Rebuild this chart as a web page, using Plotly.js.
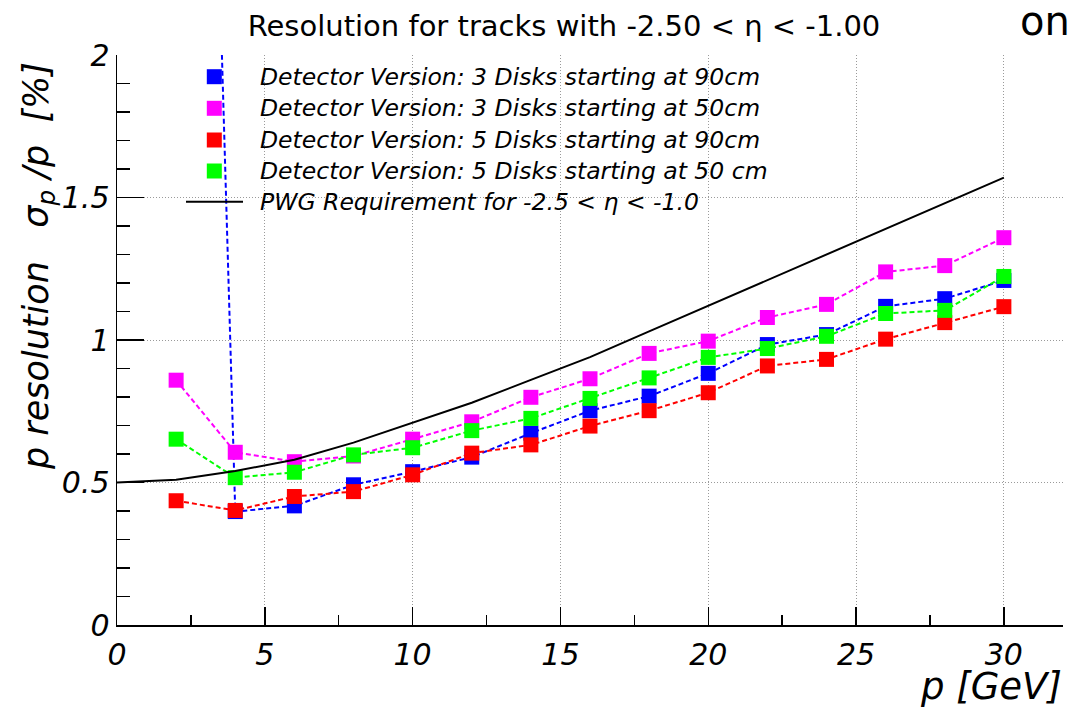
<!DOCTYPE html>
<html>
<head>
<meta charset="utf-8">
<script src="https://cdn.plot.ly/plotly-3.0.1.min.js"></script>
<style>
  html, body { margin: 0; padding: 0; background: #ffffff; }
  #chart { width: 1068px; height: 707px; }
</style>
</head>
<body>
<div id="chart"></div>
<script>
// Momentum points (GeV) where the resolution was evaluated
const momentum = [2, 4, 6, 8, 10, 12, 14, 16, 18, 20, 22, 24, 26, 28, 30];

// Relative momentum resolution (%) for each detector configuration
const res3Disks90 = [7.5, 0.398, 0.418, 0.492, 0.538, 0.589, 0.673, 0.752, 0.803, 0.883, 0.984, 1.019, 1.118, 1.145, 1.209];
const res3Disks50 = [0.859, 0.606, 0.573, 0.593, 0.652, 0.713, 0.799, 0.864, 0.953, 0.996, 1.079, 1.125, 1.239, 1.261, 1.359];
const res5Disks90 = [0.436, 0.402, 0.451, 0.468, 0.527, 0.603, 0.632, 0.698, 0.752, 0.815, 0.909, 0.932, 1.003, 1.061, 1.117];
const res5Disks50 = [0.652, 0.517, 0.536, 0.597, 0.622, 0.682, 0.725, 0.795, 0.867, 0.939, 0.970, 1.013, 1.093, 1.104, 1.223];

// Physics working group requirement curve
const requirementP   = [0, 2, 4, 6, 8, 10, 12, 14, 16, 18, 20, 22, 24, 26, 28, 30];
const requirementRes = [0.50, 0.51, 0.54, 0.58, 0.64, 0.71, 0.78, 0.86, 0.94, 1.03, 1.12, 1.21, 1.30, 1.39, 1.48, 1.57];

const seriesNames = [
  'Detector Version: 3 Disks starting at 90cm',
  'Detector Version: 3 Disks starting at 50cm',
  'Detector Version: 5 Disks starting at 90cm',
  'Detector Version: 5 Disks starting at 50 cm'
];
const requirementName = 'PWG Requirement for -2.5 < \u03B7 < -1.0';
const seriesValues = [res3Disks90, res3Disks50, res5Disks90, res5Disks50];
const seriesColors = ['#0000ff', '#ff00ff', '#ff0000', '#00ff00'];

const xTickVals = [0, 5, 10, 15, 20, 25, 30];
const yTickVals = [0, 0.5, 1, 1.5, 2];
const yTickText = ['0', '0.5', '1', '1.5', '2'];

const titleText = 'Resolution for tracks with -2.50 < \u03B7 < -1.00';
const yTitleText = 'p resolution&#160;&#160;&#160;\u03C3<sub>p</sub> /p&#160;&#160;[%]';
const xTitleText = 'p [GeV]';

// Frame geometry in pixels
const W = 1068, H = 707;
const M = { l: 117, r: 5, t: 55, b: 82 };
const plotW = W - M.l - M.r, plotH = H - M.t - M.b;
const px2x = px => (px - M.l) / plotW;
const py2y = py => (H - M.b - py) / plotH;

const FONT = 'DejaVu Sans, Liberation Sans, Arial, sans-serif';

const traces = seriesValues.map((vals, i) => ({
  type: 'scatter',
  mode: 'lines+markers',
  x: momentum,
  y: vals,
  name: seriesNames[i],
  showlegend: false,
  line: { color: seriesColors[i], width: 2, dash: '5px,3px' },
  marker: { symbol: 'square', size: 15, color: seriesColors[i], line: { width: 0 } }
}));
traces.push({
  type: 'scatter',
  mode: 'lines',
  x: requirementP,
  y: requirementRes,
  name: requirementName,
  showlegend: false,
  line: { color: '#000000', width: 2 }
});

// Hand-placed legend block inside the frame
const legendRows = [76.7, 108.3, 140, 171, 201.7];
const legendTextX = 258, legendMarkX = 214.3, half = 7.5;
const shapes = [];
const annotations = [];
seriesNames.forEach((name, i) => {
  const cy = legendRows[i];
  shapes.push({
    type: 'rect', xref: 'paper', yref: 'paper',
    x0: px2x(legendMarkX - half), x1: px2x(legendMarkX + half),
    y0: py2y(cy + half), y1: py2y(cy - half),
    fillcolor: seriesColors[i], line: { width: 0 }
  });
  annotations.push({
    xref: 'paper', yref: 'paper', x: px2x(legendTextX), y: py2y(cy),
    xanchor: 'left', yanchor: 'middle', showarrow: false, text: name,
    font: { family: FONT, size: 23.5, style: 'italic', color: '#000' }
  });
});
shapes.push({
  type: 'line', xref: 'paper', yref: 'paper',
  x0: px2x(186), x1: px2x(243), y0: py2y(legendRows[4]), y1: py2y(legendRows[4]),
  line: { color: '#000', width: 2 }
});
annotations.push({
  xref: 'paper', yref: 'paper', x: px2x(legendTextX), y: py2y(legendRows[4]),
  xanchor: 'left', yanchor: 'middle', showarrow: false, text: requirementName,
  font: { family: FONT, size: 23.5, style: 'italic', color: '#000' }
});

// Axis titles
annotations.push({
  xref: 'paper', yref: 'paper', x: px2x(38), y: py2y(60),
  xanchor: 'center', yanchor: 'top', textangle: -90, showarrow: false,
  text: yTitleText,
  font: { family: FONT, size: 35, style: 'italic', color: '#000' }
});
annotations.push({
  xref: 'paper', yref: 'paper', x: px2x(1064), y: py2y(687),
  xanchor: 'right', yanchor: 'middle', showarrow: false,
  text: xTitleText,
  font: { family: FONT, size: 37, style: 'italic', color: '#000' }
});
// Fragment of a second title at the top-right corner
annotations.push({
  xref: 'paper', yref: 'paper', x: px2x(1018), y: py2y(21),
  xanchor: 'left', yanchor: 'middle', showarrow: false,
  text: 'on',
  font: { family: FONT, size: 40, color: '#000' }
});

const axisCommon = {
  showline: true, linecolor: '#000', linewidth: 1.5, mirror: false,
  ticks: 'inside', tickcolor: '#000', tickwidth: 1.5,
  showgrid: true, gridcolor: '#9a9a9a', gridwidth: 1, griddash: '1px,2px',
  zeroline: false, fixedrange: true,
  tickfont: { family: FONT, size: 30, style: 'italic', color: '#000' }
};

const layout = {
  width: W, height: H,
  margin: M,
  paper_bgcolor: '#ffffff', plot_bgcolor: '#ffffff',
  showlegend: false,
  title: {
    text: titleText,
    font: { family: FONT, size: 29, color: '#000' },
    x: 564 / W, xanchor: 'center', xref: 'container',
    y: 1 - 26 / H, yanchor: 'middle', yref: 'container'
  },
  xaxis: Object.assign({}, axisCommon, {
    range: [0, 32],
    tickmode: 'array', tickvals: xTickVals,
    ticklen: 18, ticklabelstandoff: 2,
    minor: { tick0: 0, dtick: 2.5, ticks: 'inside', ticklen: 10, tickcolor: '#000', tickwidth: 1.5, showgrid: false }
  }),
  yaxis: Object.assign({}, axisCommon, {
    range: [0, 2],
    tickmode: 'array', tickvals: yTickVals, ticktext: yTickText,
    ticklen: 27, ticklabelstandoff: 0,
    minor: { tick0: 0, dtick: 0.1, ticks: 'inside', ticklen: 13, tickcolor: '#000', tickwidth: 1.5, showgrid: false }
  }),
  shapes: shapes,
  annotations: annotations
};

Plotly.newPlot('chart', traces, layout, { displayModeBar: false, staticPlot: true });
</script>
</body>
</html>
